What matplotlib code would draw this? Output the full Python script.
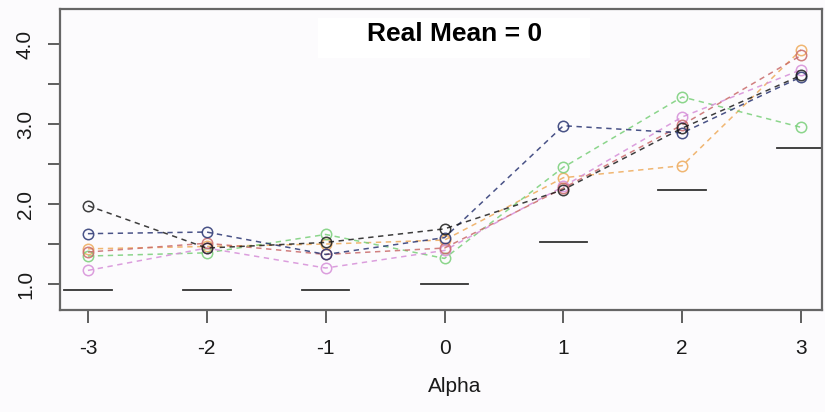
import matplotlib
matplotlib.use("Agg")
import matplotlib.pyplot as plt
from matplotlib.patches import Rectangle

plt.rcParams['font.family'] = ['Liberation Sans', 'DejaVu Sans']

alpha = [-3, -2, -1, 0, 1, 2, 3]
true_level = [0.925, 0.925, 0.93, 1.0, 1.525, 2.17, 2.70]

series_black = [1.98, 1.45, 1.52, 1.69, 2.18, 2.95, 3.61]
series_navy = [1.63, 1.65, 1.37, 1.58, 2.98, 2.89, 3.59]
series_green = [1.35, 1.39, 1.62, 1.32, 2.46, 3.34, 2.96]
series_orange = [1.44, 1.47, 1.50, 1.55, 2.33, 2.48, 3.93]
series_red = [1.40, 1.51, 1.37, 1.45, 2.20, 2.99, 3.86]
series_pink = [1.17, 1.45, 1.20, 1.42, 2.22, 3.09, 3.68]

y_ticks = [1.0, 1.5, 2.0, 2.5, 3.0, 3.5, 4.0]
y_labels = ["1.0", "", "2.0", "", "3.0", "", "4.0"]
title = "Real Mean = 0"
x_label = "Alpha"

styles = [
    (series_orange, '#eeaa5a'),
    (series_green, '#78cf78'),
    (series_pink, '#d68ed8'),
    (series_red, '#c96a6a'),
    (series_navy, '#2a3572'),
    (series_black, '#1c1c1c'),
]

W, H = 825, 412
fig = plt.figure(figsize=(W / 100, H / 100), dpi=100, facecolor='#fcfbfd')
left, right, top, bottom = 60, 822, 9, 310
ax = fig.add_axes([left / W, 1 - bottom / H, (right - left) / W, (bottom - top) / H])
ax.set_facecolor('#fcfbfd')

for vals, col in styles:
    ax.plot(alpha, vals, linestyle=(0, (3.5, 3)), color=col, linewidth=1.1,
            marker='o', markersize=7.5, markerfacecolor='none',
            markeredgecolor=col, markeredgewidth=1.1, alpha=0.85)

half = 0.2
for a, t in zip(alpha, true_level):
    ax.plot([a - half, a + half], [t, t], color='#333333', linewidth=1.3)

ax.set_xlim(-3.235, 3.176)
ax.set_ylim(0.675, 4.44)
ax.set_xticks(alpha)
ax.set_xticklabels([str(a) for a in alpha])
ax.set_yticks(y_ticks)
ax.set_yticklabels(y_labels, rotation=90, va='center')
ax.tick_params(axis='both', labelsize=15, length=9, width=1.2, color='#444444', labelcolor='#1a1a1a')
ax.tick_params(axis='x', pad=12)
ax.tick_params(axis='y', pad=9)
for s in ax.spines.values():
    s.set_color('#666666')
    s.set_linewidth(1.6)

fig.text(455 / W, 1 - 386 / H, x_label, ha='center', va='center', fontsize=15, color='#1a1a1a')

fig.patches.append(Rectangle((318 / W, 1 - 58 / H), (590 - 318) / W, 40 / H,
                             transform=fig.transFigure, facecolor='white',
                             edgecolor='none', zorder=5))
fig.text(455 / W, 1 - 34 / H, title, ha='center', va='center', fontsize=19,
         fontweight='bold', color='black', zorder=6)

fig.savefig('out.png', dpi=100, facecolor=fig.get_facecolor())
